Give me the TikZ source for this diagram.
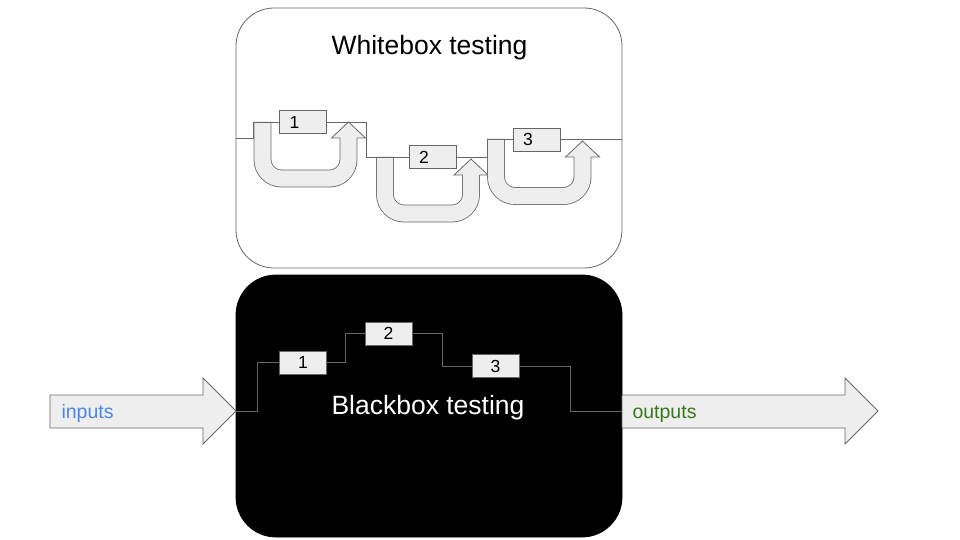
\documentclass[tikz,border=0pt]{standalone}
\usepackage{fontspec}
\setmainfont{Liberation Sans}
\usepackage{tikz}
\usetikzlibrary{positioning,calc}

\definecolor{edgegray}{HTML}{666666}
\definecolor{lightfill}{HTML}{EEEEEE}
\definecolor{inblue}{HTML}{4A86E8}
\definecolor{outgreen}{HTML}{38761D}

% U-shaped loop arrow: left arm x, top y, right arm x, bottom y, head base y
\newcommand{\looparrow}[5]{%
  \draw[looparm] (#1,#2) -- (#1,#4) -- (#3,#4) -- (#3,#5);
  \fill[lightfill] (#3-17,#5) -- (#3,#5-16) -- (#3+17,#5) -- cycle;
  \draw[edgegray,line width=0.8pt] (#3-8.5,#5) -- (#3-17,#5) -- (#3,#5-16) -- (#3+17,#5) -- (#3+8.5,#5);
}

\begin{document}
\begin{tikzpicture}[
      x=1pt, y=-1pt,
      frame/.style={draw=edgegray, line width=0.8pt, rounded corners=38pt, minimum width=386pt, inner sep=0pt},
      title/.style={anchor=base, font=\fontsize{26.5}{30}\selectfont},
      wire/.style={draw=edgegray, line width=0.9pt},
      stage/.style={draw=edgegray, fill=lightfill, line width=0.8pt, minimum width=47pt, minimum height=23pt, inner sep=0pt, font=\fontsize{17.5}{19}\selectfont},
      wstage/.style={stage, text width=27pt, inner xsep=10pt, align=left},
      looparm/.style={draw=edgegray, line width=0.8pt, double=lightfill, double distance=16.2pt, rounded corners=19pt},
      bigarrow/.style={draw=edgegray, fill=lightfill, line width=0.8pt},
      arrowtext/.style={anchor=base west, font=\fontsize{19.5}{22}\selectfont}
      ]
      \useasboundingbox (0,0) rectangle (960,540);

      % the two boxes
      \node[frame, minimum height=260pt] (whitebox) at (429,138) {};
      \node[frame, fill=black, draw=black, rounded corners=40pt, minimum height=262pt] (blackbox) at (429,406) {};
      \node[title] (wtitle) at (429.5,54.5) {Whitebox testing};
      \node[title, text=white] (btitle) at (428,414) {Blackbox testing};

      % whitebox: loops inside every stage
      \looparrow{262.5}{122}{348.5}{178.5}{138}
      \looparrow{385}{157}{471}{213.5}{175}
      \looparrow{496}{139}{582.5}{196}{157}

      \node[wstage] (w1) at (303,122) {1};
      \node[wstage] (w2) at (432.5,157) {2};
      \node[wstage] (w3) at (536.5,139.5) {3};

      \draw[wire] (whitebox.west) -- ++(18,0) |- (w1.west);
      \draw[wire] (w1.east) -- ++(40,0) |- (w2.west);
      \draw[wire] (w2.east) -- ++(31.5,0) |- (w3.west);
      \draw[wire] (w3.east) -- (w3.east -| whitebox.east);

      % inputs and outputs
      \draw[bigarrow] (50,395) -- (203,395) -- (203,378) -- (236,411) -- (203,444) -- (203,428) -- (50,428) -- cycle;
      \draw[bigarrow] (622,395) -- (845,395) -- (845,378) -- (878,411) -- (845,444) -- (845,428) -- (622,428) -- cycle;
      \node[arrowtext, text=inblue] (inputs) at (58,418) {inputs};
      \node[arrowtext, text=outgreen] (outputs) at (629,418) {outputs};
      \coordinate (intip) at (236,411);
      \coordinate (outtail) at (622,411);

      % blackbox: only the stages are seen
      \node[stage] (b1) at (303,362.5) {1};
      \node[stage] (b2) at (388.5,333.5) {2};
      \node[stage] (b3) at (495.5,366) {3};

      \draw[wire] (intip) -- ++(21,0) |- (b1.west);
      \draw[wire] (b1.east) -- ++(19,0) |- (b2.west);
      \draw[wire] (b2.east) -- ++(30,0) |- (b3.west);
      \draw[wire] (b3.east) -- ++(51,0) |- (outtail);
    \end{tikzpicture}
\end{document}
